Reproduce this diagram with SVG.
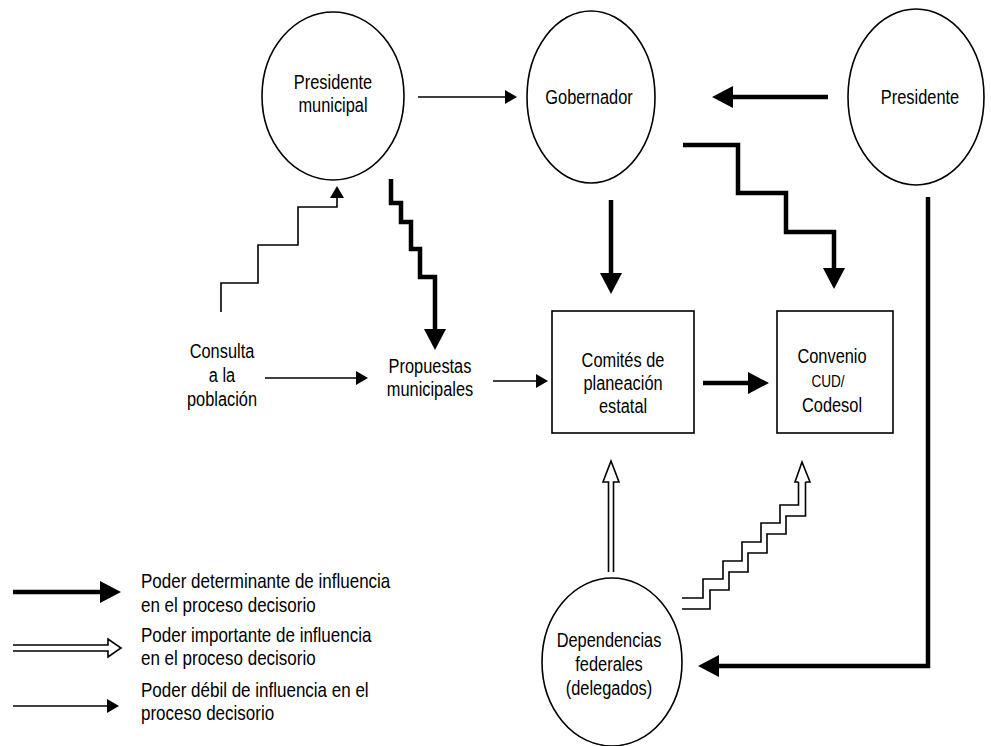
<svg xmlns="http://www.w3.org/2000/svg" width="991" height="746" viewBox="0 0 991 746">
<style>
.bg{fill:#fff}
.ln{fill:none;stroke:#000;stroke-width:1.6;stroke-linejoin:miter}
.tk{fill:none;stroke:#000;stroke-width:4.5;stroke-linejoin:miter}
.hl{fill:#fff;stroke:#000;stroke-width:1.6;stroke-linejoin:miter}
.nd{fill:#fff;stroke:#000;stroke-width:1.6}
.t{font-family:"Liberation Sans",Arial,sans-serif;font-size:21px;fill:#000;text-anchor:middle}
.l{font-family:"Liberation Sans",Arial,sans-serif;font-size:20px;fill:#000}
.sc{font-family:"Liberation Sans",Arial,sans-serif;font-size:16px;fill:#000;text-anchor:middle}
</style>
<defs>
<marker id="hT" markerUnits="userSpaceOnUse" markerWidth="21" markerHeight="22" viewBox="0 0 21 22" refX="0" refY="11" orient="auto"><path d="M0,0 L21,11 L0,22 z" fill="#000"/></marker>
<marker id="hS" markerUnits="userSpaceOnUse" markerWidth="12" markerHeight="14" viewBox="0 0 12 14" refX="0" refY="7" orient="auto"><path d="M0,0 L12,7 L0,14 z" fill="#000"/></marker>
</defs>
<rect class="bg" x="0" y="0" width="991" height="746"/>

<g id="connectors">
  <path class="ln" d="M418,97 H505" marker-end="url(#hS)"/>
  <path class="tk" d="M828,97 H733" marker-end="url(#hT)"/>
  <path class="tk" d="M611,200 V273" marker-end="url(#hT)"/>
  <path class="tk" d="M683,145 H738 V193 H786 V232 H834 V268" marker-end="url(#hT)"/>
  <path class="tk" d="M391,179 V203 H401 V222 H411 V249 H420 V277 H435 V329" marker-end="url(#hT)"/>
  <path class="ln" d="M221,312 V283 H258 V245 H298 V207 H337 V198" marker-end="url(#hS)"/>
  <path class="ln" d="M265,378 H356" marker-end="url(#hS)"/>
  <path class="ln" d="M493,381 H536" marker-end="url(#hS)"/>
  <path class="tk" d="M703,383 H748" marker-end="url(#hT)"/>
  <path class="tk" d="M928,197 V666 H719" marker-end="url(#hT)"/>
  <path class="hl" d="M608.5,572 V482 H603 L611,461 L619,482 H613.5 V572"/>
  <path class="ln" d="M682,598 H703 V579 H723 V561 H742 V542 H761 V523 H780 V505 H798.5 V482"/>
  <path class="ln" d="M682,609 H710 V590 H729 V572 H748 V553 H767 V534 H786 V516 H805.5 V482"/>
  <path class="hl" d="M798.5,482 H795 L802,462 L810,482 H805.5"/>
</g>

<g id="presidente-municipal">
  <ellipse class="nd" cx="333" cy="96" rx="71" ry="84"/>
  <text class="t" transform="translate(333,89) scale(0.78,1)">Presidente</text>
  <text class="t" transform="translate(333,112) scale(0.78,1)">municipal</text>
</g>
<g id="gobernador">
  <ellipse class="nd" cx="591" cy="97" rx="64" ry="86"/>
  <text class="t" transform="translate(589,104) scale(0.78,1)">Gobernador</text>
</g>
<g id="presidente">
  <ellipse class="nd" cx="916" cy="97" rx="68" ry="88"/>
  <text class="t" transform="translate(920,104) scale(0.78,1)">Presidente</text>
</g>
<g id="consulta">
  <text class="t" transform="translate(222,358) scale(0.78,1)">Consulta</text>
  <text class="t" transform="translate(222,382) scale(0.78,1)">a la</text>
  <text class="t" transform="translate(222,406) scale(0.78,1)">población</text>
</g>
<g id="propuestas">
  <text class="t" transform="translate(430,373) scale(0.78,1)">Propuestas</text>
  <text class="t" transform="translate(430,396) scale(0.78,1)">municipales</text>
</g>
<g id="comites">
  <rect class="nd" x="552" y="311" width="142" height="122"/>
  <text class="t" transform="translate(623,367) scale(0.78,1)">Comités de</text>
  <text class="t" transform="translate(623,390) scale(0.78,1)">planeación</text>
  <text class="t" transform="translate(623,413) scale(0.78,1)">estatal</text>
</g>
<g id="convenio">
  <rect class="nd" x="777" y="311" width="116" height="122"/>
  <text class="t" transform="translate(832,363) scale(0.78,1)">Convenio</text>
  <text class="sc" transform="translate(828,387) scale(0.85,1)">CUD/</text>
  <text class="t" transform="translate(832,412) scale(0.78,1)">Codesol</text>
</g>
<g id="dependencias">
  <ellipse class="nd" cx="612" cy="662" rx="70" ry="84"/>
  <text class="t" transform="translate(609,647) scale(0.78,1)">Dependencias</text>
  <text class="t" transform="translate(609,671) scale(0.78,1)">federales</text>
  <text class="t" transform="translate(609,695) scale(0.78,1)">(delegados)</text>
</g>

<g id="legend">
  <path class="tk" d="M13,592 H100" marker-end="url(#hT)"/>
  <text class="l" transform="translate(141,588) scale(0.85,1)">Poder determinante de influencia</text>
  <text class="l" transform="translate(141,612) scale(0.85,1)">en el proceso decisorio</text>
  <path class="hl" d="M13,645 H108 V639 L121,648 L108,657 V651 H13"/>
  <text class="l" transform="translate(141,642) scale(0.85,1)">Poder importante de influencia</text>
  <text class="l" transform="translate(141,665) scale(0.85,1)">en el proceso decisorio</text>
  <path class="ln" d="M13,706 H107" marker-end="url(#hS)"/>
  <text class="l" transform="translate(141,697) scale(0.85,1)">Poder débil de influencia en el</text>
  <text class="l" transform="translate(141,720) scale(0.85,1)">proceso decisorio</text>
</g>
</svg>
